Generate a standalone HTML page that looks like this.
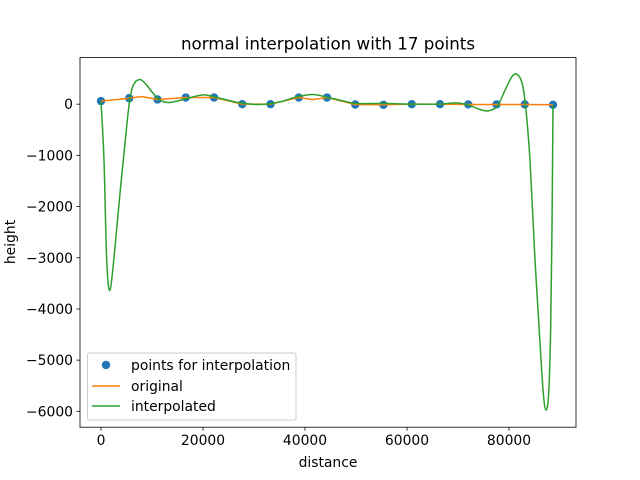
<!DOCTYPE html>
<html><head><meta charset="utf-8"><style>
body{margin:0;background:#fff}
svg{display:block;font-family:"DejaVu Sans","Liberation Sans",sans-serif}
</style></head><body>
<svg id="chart" width="640" height="480" viewBox="0 0 640 480" xmlns="http://www.w3.org/2000/svg">
<rect width="640" height="480" fill="#fff"/>
<text x="328" y="49.5" font-size="16.7" text-anchor="middle">normal interpolation with 17 points</text>
<g id="plot"></g>
<text x="328" y="467" font-size="13.9" text-anchor="middle">distance</text>
<text x="15" y="242" font-size="13.9" text-anchor="middle" transform="rotate(-90 15 242)">height</text>
<g>
<rect x="87.5" y="353" width="208.5" height="67" rx="2" fill="#fff" fill-opacity="0.8" stroke="#ccc" stroke-width="1"/>
<circle cx="106" cy="365" r="4.2" fill="#1f77b4"/>
<text x="131" y="370" font-size="13.9">points for interpolation</text>
<line x1="92" y1="386" x2="120" y2="386" stroke="#ff7f0e" stroke-width="1.5"/>
<text x="131" y="391" font-size="13.9">original</text>
<line x1="92" y1="406" x2="120" y2="406" stroke="#2ca02c" stroke-width="1.5"/>
<text x="131" y="411" font-size="13.9">interpolated</text>
</g>
</svg>
<script>
const pointX=[0,5539,11078,16618,22157,27696,33235,38774,44314,49853,55392,60931,66470,72010,77549,83088,88627];
const pointY=[60,117,92,130,130,0,0,130,130,-6,-12,0,0,-5,-5,-5,-12];
const originalX=[0,5539,8000,11078,16618,22157,27696,33235,38774,41500,44314,49853,55392,60931,66470,72010,77549,83088,88627];
const originalY=[60,117,150,92,130,130,0,0,130,90,130,-6,-12,0,0,-5,-5,-5,-12];
const interpX=[0,588,1118,1765,2745,3726,4706,5549,6333,7647,8961,10196,11569,13530,16804,20059,22686,27255,31177,35098,38373,41569,44510,47451,50137,56020,61177,66471,69746,72157,74314,75941,77706,79216,80530,81510,82490,83196,84118,85098,86078,86725,87255,87784,88176,88431,88627];
const interpY=[60,-1094,-3046,-3633,-2787,-1738,-762,20,371,482,371,215,78,33,111,182,131,25,-6,45,143,189,131,64,14,14,0,0,25,-20,-104,-131,-39,273,533,586,436,14,-1094,-3047,-4668,-5644,-5976,-5644,-4355,-2402,-12];
const xTicks=[0,20000,40000,60000,80000];
const yTicks=[0,-1000,-2000,-3000,-4000,-5000,-6000];
const xLim=[-4118,93137], yLim=[-6310,910];
const L=80,R=576,T=57.6,B=427.2;
const NS='http://www.w3.org/2000/svg';
const sx=v=>L+(v-xLim[0])/(xLim[1]-xLim[0])*(R-L);
const sy=v=>B-(v-yLim[0])/(yLim[1]-yLim[0])*(B-T);
const g=document.getElementById('plot');
function mk(t,a){const e=document.createElementNS(NS,t);for(const k in a)e.setAttribute(k,a[k]);g.appendChild(e);return e;}
const clip=mk('clipPath',{id:'clp'});
const cr=document.createElementNS(NS,'rect');cr.setAttribute('x',L);cr.setAttribute('y',T);cr.setAttribute('width',R-L);cr.setAttribute('height',B-T);clip.appendChild(cr);
function smoothPath(xs,ys){
  const P=xs.map((x,i)=>[sx(x),sy(ys[i])]);
  let d='M'+P[0][0]+','+P[0][1];
  for(let i=0;i<P.length-1;i++){
    const p0=P[i-1]||P[i],p1=P[i],p2=P[i+1],p3=P[i+2]||P[i+1];
    const c1=[p1[0]+(p2[0]-p0[0])/6,p1[1]+(p2[1]-p0[1])/6];
    const c2=[p2[0]-(p3[0]-p1[0])/6,p2[1]-(p3[1]-p1[1])/6];
    d+=' C'+c1[0]+','+c1[1]+' '+c2[0]+','+c2[1]+' '+p2[0]+','+p2[1];
  }
  return d;
}
function line(xs,ys,c,name,smooth){
  const d=smooth?smoothPath(xs,ys):'M'+xs.map((x,i)=>sx(x)+','+sy(ys[i])).join(' L');
  const e=mk('path',{d:d,fill:'none',stroke:c,'stroke-width':1.5,'stroke-linejoin':'round','clip-path':'url(#clp)'});
  
  
}
pointX.forEach((x,i)=>{
  const c=mk('circle',{cx:sx(x),cy:sy(pointY[i]),r:4.2,fill:'#1f77b4'});
  
  
});
line(originalX,originalY,'#ff7f0e','original-line',false);
line(interpX,interpY,'#2ca02c','interpolated-line',true);
const fr=mk('rect',{x:L,y:T,width:R-L,height:B-T,fill:'none',stroke:'#000','stroke-width':0.8});


xTicks.forEach(v=>{
  const p=sx(v);
  const t=mk('line',{x1:p,x2:p,y1:B,y2:B+3.5,stroke:'#000','stroke-width':0.8});
  
  
  const l=mk('text',{x:p,y:B+18,'font-size':13.9,'text-anchor':'middle'});
  l.textContent=String(v);
  
  
});
yTicks.forEach(v=>{
  const p=sy(v);
  const t=mk('line',{x1:L-3.5,x2:L,y1:p,y2:p,stroke:'#000','stroke-width':0.8});
  
  
  const l=mk('text',{x:L-7,y:p+5,'font-size':13.9,'text-anchor':'end'});
  l.textContent=String(v).replace('-','\u2212');
  
  
});
</script>
</body></html>
